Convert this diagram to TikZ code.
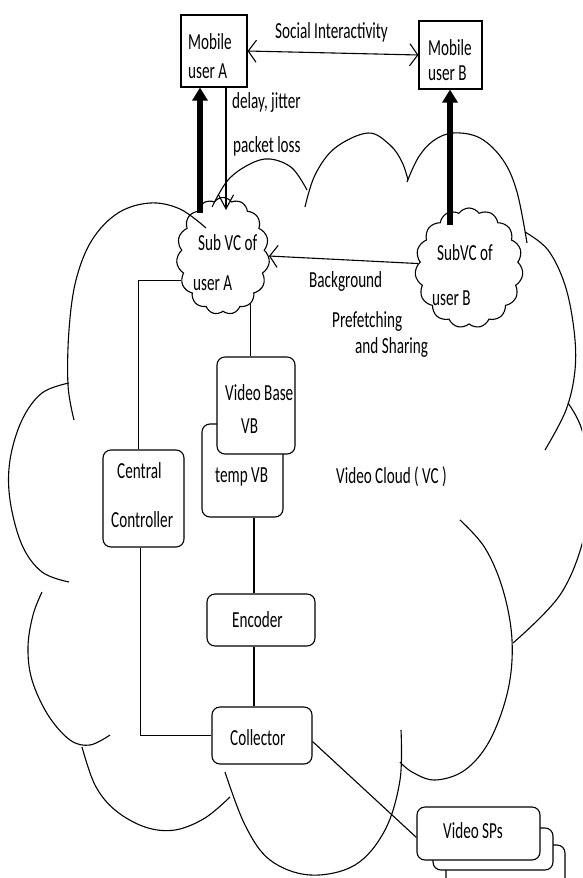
\documentclass[tikz,border=0pt]{standalone}
\usepackage{fontspec}
\setmainfont{Carlito}[FakeStretch=0.66]
\usetikzlibrary{shapes.symbols,arrows.meta}
\tikzset{
  ln/.style={line width=1.1pt, draw=black},
  rbox/.style={draw, line width=1.1pt, rounded corners=8pt, fill=white, inner sep=0pt},
  sqbox/.style={draw, line width=1.1pt, fill=white, inner sep=0pt},
  lbl/.style={anchor=base west, inner sep=0pt, font=\fontsize{23pt}{28pt}\selectfont},
  subcloud/.style={draw, line width=1.1pt, cloud, cloud puffs=15, cloud puff arc=110, cloud ignores aspect, inner sep=0pt},
  thickarrow/.style={line width=5.5pt, -{Triangle[length=13pt,width=15pt]}},
  barb/.tip={Straight Barb[length=8pt,width=22pt,line width=1.1pt]},
  lobe/.style={line width=1.1pt, smooth, tension=0.6},
}
\begin{document}
\begin{tikzpicture}[x=1pt,y=-1pt]
\useasboundingbox (0,0) rectangle (582,878);
\clip (0,0) rectangle (582,878);

% big cloud (Video Cloud)
\draw[lobe] plot coordinates {(212,207) (228,180) (250,164) (270,159) (292,168) (307,190)};
\draw[lobe] plot coordinates {(305,207) (315,175) (335,148) (368,133) (390,145) (402,162) (408,180)};
\draw[lobe] plot coordinates {(407,182) (418,158) (433,141) (453,133) (480,138) (503,160) (517,192) (527,243)};
\draw[lobe] plot coordinates {(525,232) (548,250) (565,285) (574,330) (575,370) (566,410) (545,450)};
\draw[lobe] plot coordinates {(568,403) (582,430) (590,480) (584,537) (560,595) (513,643)};
\draw[lobe] plot coordinates {(460,520) (485,548) (503,590) (512,640) (508,690) (490,740) (465,770) (435,780) (412,772) (400,762)};
\draw[lobe] plot coordinates {(401,730) (400,780) (385,830) (355,865) (310,875) (270,860) (245,825) (225,772)};
\draw[lobe] plot coordinates {(230,797) (205,818) (175,830) (145,827) (115,810) (95,785) (82,747)};
\draw[lobe] plot coordinates {(110,735) (90,745) (70,740) (48,715) (32,680) (28,647) (33,615) (42,592)};
\draw[lobe] plot coordinates {(69,383) (42,393) (22,420) (10,460) (10,500) (22,545) (42,572) (69,582)};
\draw[lobe] plot coordinates {(206,228) (180,209) (150,203) (118,213) (92,240) (76,280) (69,330) (68,385) (74,420)};

% nodes
\node[sqbox, minimum width=66pt, minimum height=72pt] (mobileA) at (214,51) {};
\node[sqbox, minimum width=63pt, minimum height=68pt] (mobileB) at (450.5,55) {};
\node[subcloud, minimum width=93pt, minimum height=117pt] (subA) at (223,256) {};
\node[subcloud, minimum width=108pt, minimum height=120pt] (subB) at (469,268) {};
\node[rbox, minimum width=81pt, minimum height=93pt] (tempvb) at (242.5,470.5) {};
\node[rbox, minimum width=78pt, minimum height=97pt] (vb) at (256,405.5) {};
\node[rbox, minimum width=81pt, minimum height=97pt] (cc) at (143.5,498.5) {};
\node[rbox, minimum width=108pt, minimum height=52pt] (enc) at (261,620) {};
\node[rbox, minimum width=100pt, minimum height=57pt] (coll) at (262,735.5) {};
\node[rbox, minimum width=119pt, minimum height=50pt] (sps3) at (505.5,870) {};
\node[rbox, minimum width=120pt, minimum height=42pt] (sps2) at (493,849) {};
\node[rbox, minimum width=123pt, minimum height=53pt] (sps) at (478.5,833.5) {};

% helper coordinates
\coordinate (tA) at (200,213);
\coordinate (tB) at (450,225);
\coordinate (dA) at (226,210);
\coordinate (mx) at (254,0);

% connectors
\draw[ln, {barb}-{barb}] (mobileA.east) -- (mobileB.west);
\draw[thickarrow] (tA) -- (tA |- mobileA.south);
\draw[thickarrow] (tB) -- (tB |- mobileB.south);
\draw[ln, -{Straight Barb[length=14pt,width=15pt,line width=1.1pt]}] (dA |- mobileA.south) -- (dA);
\draw[ln, -{barb}] (subB.175) -- (subA.east);
\draw[ln] (subA.210) -| ([xshift=-5pt]cc.north);
\draw[ln] ([xshift=-3pt]cc.south) |- (coll.west);
\draw[ln] (subA.300) -- (subA.300 |- vb.north);
\draw[ln] (tempvb.south -| mx) -- (enc.north -| mx);
\draw[ln] (enc.south -| mx) -- (coll.north -| mx);
\draw[ln] ([yshift=-6pt]coll.east) -- ([yshift=-4pt]sps.west);

% labels
\node[lbl] (l1) at (188,49) {Mobile};
\node[lbl] (l2) at (188,78) {user A};
\node[lbl] (l3) at (428,55) {Mobile};
\node[lbl] (l4) at (428,80) {user B};
\node[lbl] (l5) at (275,38) {Social Interactivity};
\node[lbl] (l6) at (232,108) {delay, jitter};
\node[lbl] (l7) at (233,152) {packet loss};
\node[lbl] (l8) at (198,250) {Sub VC of};
\node[lbl] (l9) at (193,290) {user A};
\node[lbl] (l10) at (437,260) {SubVC of};
\node[lbl] (l11) at (432,305) {user B};
\node[lbl] (l12) at (309,287) {Background};
\node[lbl] (l13) at (332,327) {Prefetching};
\node[lbl] (l14) at (355,353) {and Sharing};
\node[lbl] (l15) at (225,400) {Video Base};
\node[lbl] (l16) at (241,433) {VB};
\node[lbl] (l17) at (215,482) {temp VB};
\node[lbl] (l18) at (117,478) {Central};
\node[lbl] (l19) at (111,527) {Controller};
\node[lbl] (l20) at (336,483) {Video Cloud ( VC )};
\node[lbl] (l21) at (232,627) {Encoder};
\node[lbl] (l22) at (230,745) {Collector};
\node[lbl] (l23) at (443,838) {Video SPs};
\end{tikzpicture}
\end{document}
